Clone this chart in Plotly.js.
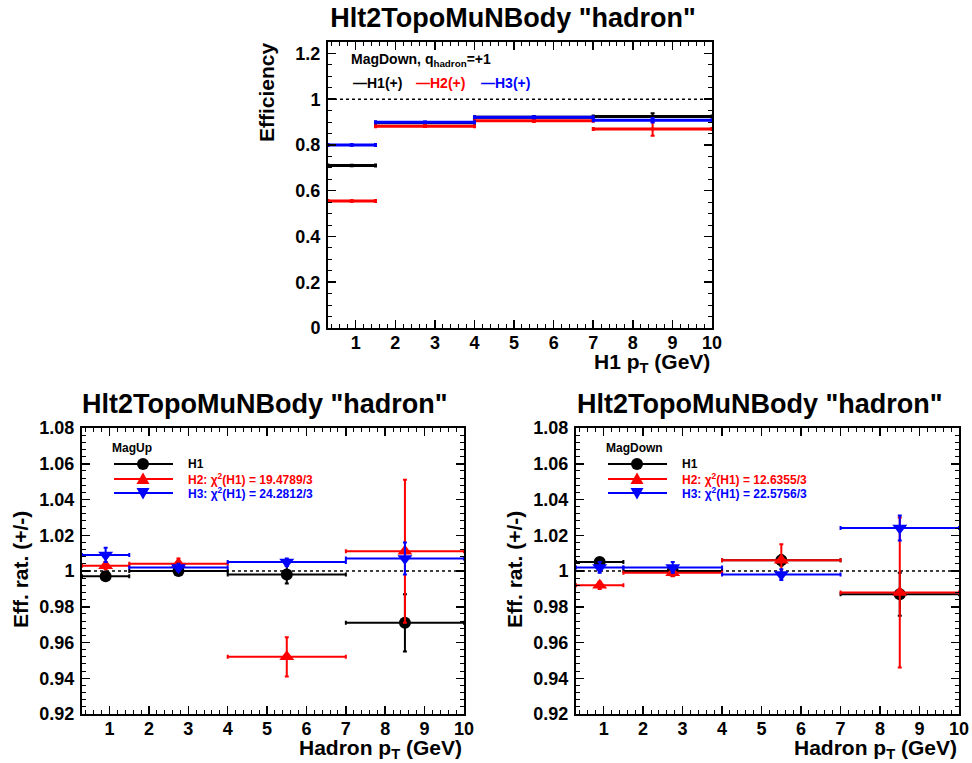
<!DOCTYPE html>
<html>
<head>
<meta charset="utf-8">
<script src="https://cdn.plot.ly/plotly-3.0.1.min.js"></script>
<style>html,body{margin:0;padding:0;background:#fff;}#chart{width:972px;height:763px;}</style>
</head>
<body>
<div id="chart"></div>
<script>
// ---- data ----
const binLow  = [0.3, 1.5, 4, 7];
const binHigh = [1.5, 4, 7, 10];
const binCenter = [0.9, 2.75, 5.5, 8.5];

// top panel: efficiency, MagDown, q_hadron = +1
const effH1 = [0.710, 0.897, 0.921, 0.924];
const effH1Err = [0.003, 0.003, 0.004, 0.015];
const effH2 = [0.555, 0.882, 0.906, 0.870];
const effH2Err = [0.003, 0.004, 0.006, 0.030];
const effH3 = [0.800, 0.899, 0.921, 0.908];
const effH3Err = [0.003, 0.003, 0.004, 0.010];

// bottom-left: efficiency ratio (+/-), MagUp
const upH1 = [0.997, 1.000, 0.998, 0.971];
const upH1Err = [0.002, 0.002, 0.005, 0.016];
const upH2 = [1.003, 1.004, 0.952, 1.011];
const upH2Err = [0.002, 0.003, 0.011, 0.040];
const upH3 = [1.009, 1.002, 1.005, 1.007];
const upH3Err = [0.004, 0.002, 0.002, 0.009];

// bottom-right: efficiency ratio (+/-), MagDown
const dnH1 = [1.005, 1.000, 1.006, 0.987];
const dnH1Err = [0.002, 0.002, 0.003, 0.012];
const dnH2 = [0.992, 0.999, 1.006, 0.988];
const dnH2Err = [0.002, 0.002, 0.009, 0.042];
const dnH3 = [1.002, 1.002, 0.998, 1.024];
const dnH3Err = [0.003, 0.003, 0.003, 0.007];

const seriesNames = ['H1', 'H2', 'H3'];
const seriesColors = ['#000000', '#ff0000', '#0000ff'];
const seriesSymbols = ['circle', 'triangle-up', 'triangle-down'];
const chi2Up = ['19.4789/3', '24.2812/3'];
const chi2Down = ['12.6355/3', '22.5756/3'];
const xTickLabels = ['1','2','3','4','5','6','7','8','9','10'];

// ---- helpers ----
const W = 972, H = 763;
const X = px => px / W;
const Y = py => 1 - py / H;
const FONT = 'Liberation Sans, Arial, Helvetica, sans-serif';

function makeTrace(vals, errs, idx, xa, ya, top) {
  return {
    type: 'scatter', mode: 'markers',
    x: binCenter, y: vals,
    xaxis: xa, yaxis: ya,
    showlegend: false, hoverinfo: 'x+y',
    marker: top ? {symbol: 'square', size: 3, color: seriesColors[idx]}
                : {symbol: seriesSymbols[idx], size: idx === 0 ? 12 : 13, color: seriesColors[idx]},
    error_x: {type: 'data', symmetric: false,
              array: binHigh.map((h, i) => h - binCenter[i]),
              arrayminus: binLow.map((l, i) => binCenter[i] - l),
              color: seriesColors[idx], thickness: top ? 3 : 2, width: 2},
    error_y: {type: 'data', array: errs, color: seriesColors[idx], thickness: 2, width: 2}
  };
}

const traces = [
  makeTrace(effH1, effH1Err, 0, 'x', 'y', true),
  makeTrace(effH2, effH2Err, 1, 'x', 'y', true),
  makeTrace(effH3, effH3Err, 2, 'x', 'y', true),
  makeTrace(upH1, upH1Err, 0, 'x2', 'y2', false),
  makeTrace(upH2, upH2Err, 1, 'x2', 'y2', false),
  makeTrace(upH3, upH3Err, 2, 'x2', 'y2', false),
  makeTrace(dnH1, dnH1Err, 0, 'x3', 'y3', false),
  makeTrace(dnH2, dnH2Err, 1, 'x3', 'y3', false),
  makeTrace(dnH3, dnH3Err, 2, 'x3', 'y3', false)
];

const tickFont = {family: FONT, size: 18, color: '#000', weight: 'bold'};
function xAxis(dom, anchor) {
  return {
    domain: dom, anchor: anchor, range: [0.3, 10],
    tickmode: 'array', tickvals: xTickLabels.map(Number), ticktext: xTickLabels,
    ticks: 'inside', ticklen: 8, tickwidth: 1.5, tickcolor: '#000',
    minor: {ticks: 'inside', ticklen: 4, tickwidth: 1, tickcolor: '#000', dtick: 0.2, tick0: 0},
    mirror: 'allticks', showline: true, linewidth: 2, linecolor: '#000',
    showgrid: false, zeroline: false, tickfont: tickFont, ticklabelstandoff: -3
  };
}
function yAxis(dom, anchor, range, dtick, minorDtick) {
  return {
    domain: dom, anchor: anchor, range: range,
    dtick: dtick, tick0: 0,
    ticks: 'inside', ticklen: 8, tickwidth: 1.5, tickcolor: '#000',
    minor: {ticks: 'inside', ticklen: 4, tickwidth: 1, tickcolor: '#000', dtick: minorDtick, tick0: 0},
    mirror: 'allticks', showline: true, linewidth: 2, linecolor: '#000',
    showgrid: false, zeroline: false, tickfont: tickFont, ticklabelstandoff: 2
  };
}

const topX = [X(328), X(712)], topY = [Y(328), Y(42)];
const blX = [X(82), X(464)], brX = [X(576), X(959)], botY = [Y(714), Y(428)];

function ann(text, px, py, opts) {
  return Object.assign({
    text: text, x: X(px), y: Y(py), xref: 'paper', yref: 'paper',
    showarrow: false, xanchor: 'left', yanchor: 'middle',
    font: {family: FONT, size: 12, color: '#000', weight: 'bold'}
  }, opts || {});
}
const bigFont = {family: FONT, size: 27, color: '#000', weight: 'bold'};
const axFont = {family: FONT, size: 21, color: '#000', weight: 'bold'};

const annotations = [
  ann('Hlt2TopoMuNBody "hadron"', 265, 404, {xanchor: 'center', font: bigFont}),
  ann('Hlt2TopoMuNBody "hadron"', 760, 404, {xanchor: 'center', font: bigFont}),
  ann('Efficiency', 267, 92, {xanchor: 'center', textangle: -90, font: axFont}),
  ann('Eff. rat. (+/-)', 20, 570, {xanchor: 'center', textangle: -90, font: axFont}),
  ann('Eff. rat. (+/-)', 514, 570, {xanchor: 'center', textangle: -90, font: axFont}),
  ann('H1 p<sub>T</sub> (GeV)', 712, 363, {xanchor: 'right', font: axFont}),
  ann('Hadron p<sub>T</sub> (GeV)', 464, 749, {xanchor: 'right', font: axFont}),
  ann('Hadron p<sub>T</sub> (GeV)', 959, 749, {xanchor: 'right', font: axFont}),
  // top legend
  ann('MagDown, q<sub>hadron</sub>=+1', 349, 60, {font: {family: FONT, size: 14, color: '#000', weight: 'bold'}}),
  ann('\u2014H1(+)', 351, 83, {font: {family: FONT, size: 14, color: seriesColors[0], weight: 'bold'}}),
  ann('\u2014H2(+)', 414, 83, {font: {family: FONT, size: 14, color: seriesColors[1], weight: 'bold'}}),
  ann('\u2014H3(+)', 479, 83, {font: {family: FONT, size: 14, color: seriesColors[2], weight: 'bold'}})
];

const shapes = [
  {type: 'line', xref: 'x domain', yref: 'y', x0: 0, x1: 1, y0: 1, y1: 1, layer: 'below',
   line: {color: '#000', width: 1.5, dash: 'dot'}},
  {type: 'line', xref: 'x2 domain', yref: 'y2', x0: 0, x1: 1, y0: 1, y1: 1, layer: 'below',
   line: {color: '#000', width: 1.5, dash: 'dot'}},
  {type: 'line', xref: 'x3 domain', yref: 'y3', x0: 0, x1: 1, y0: 1, y1: 1, layer: 'below',
   line: {color: '#000', width: 1.5, dash: 'dot'}}
];

// bottom legends (drawn as legend decoration)
function addLegend(offset, header, chi2) {
  annotations.push(ann(header, 110 + offset, 448));
  const rows = [464, 479, 493];
  rows.forEach((ry, i) => {
    shapes.push({type: 'line', xref: 'paper', yref: 'paper',
      x0: X(114 + offset), x1: X(173 + offset), y0: Y(ry), y1: Y(ry),
      line: {color: seriesColors[i], width: 2}});
    const anchor = {xref: 'paper', yref: 'paper', xsizemode: 'pixel', ysizemode: 'pixel',
      xanchor: X(143 + offset), yanchor: Y(ry), fillcolor: seriesColors[i], line: {width: 0}};
    if (i === 0) {
      shapes.push(Object.assign({type: 'circle', x0: -6, x1: 6, y0: -6, y1: 6}, anchor));
    } else if (i === 1) {
      shapes.push(Object.assign({type: 'path', path: 'M -6.5 -5 L 6.5 -5 L 0 6.5 Z'}, anchor));
    } else {
      shapes.push(Object.assign({type: 'path', path: 'M -6.5 5 L 6.5 5 L 0 -6.5 Z'}, anchor));
    }
    const label = i === 0 ? seriesNames[0]
      : seriesNames[i] + ': \u03c7<sup>2</sup>(H1) = ' + chi2[i - 1];
    annotations.push(ann(label, 186 + offset, ry, {font: {family: FONT, size: 12, color: seriesColors[i], weight: 'bold'}}));
  });
}
addLegend(0, 'MagUp', chi2Up);
addLegend(494, 'MagDown', chi2Down);

const layout = {
  width: W, height: H,
  margin: {l: 0, r: 0, t: 0, b: 0},
  paper_bgcolor: '#fff', plot_bgcolor: '#fff',
  showlegend: false,
  title: {text: 'Hlt2TopoMuNBody "hadron"', x: X(513), xanchor: 'center',
          y: Y(18), yanchor: 'middle', yref: 'container', font: bigFont},
  xaxis: xAxis(topX, 'y'),
  yaxis: yAxis(topY, 'x', [0, 1.25], 0.2, 0.05),
  xaxis2: xAxis(blX, 'y2'),
  yaxis2: yAxis(botY, 'x2', [0.92, 1.08], 0.02, 0.004),
  xaxis3: xAxis(brX, 'y3'),
  yaxis3: yAxis(botY, 'x3', [0.92, 1.08], 0.02, 0.004),
  annotations: annotations,
  shapes: shapes
};

Plotly.newPlot('chart', traces, layout, {displayModeBar: false, staticPlot: true});
</script>
</body>
</html>
